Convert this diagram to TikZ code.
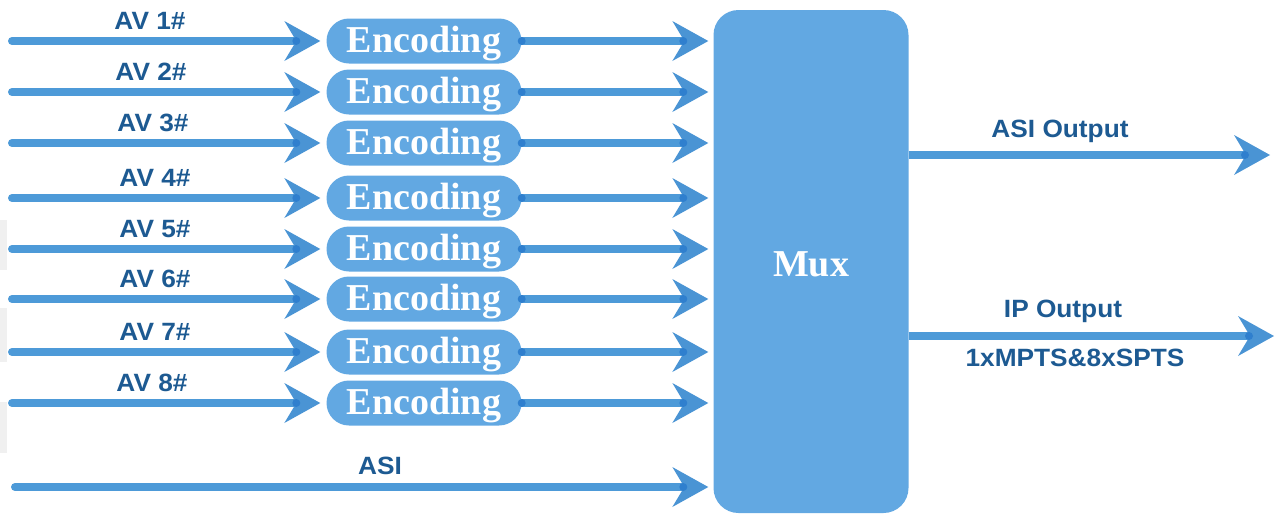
\documentclass[tikz,border=0pt]{standalone}
\usepackage{fontspec}
\usetikzlibrary{arrows.meta,shapes.misc}
\newfontfamily\labfont{Liberation Sans}[FakeStretch=1.05]
\newfontfamily\serfont{Liberation Serif}
\definecolor{lineblue}{HTML}{4D9AD8}
\definecolor{headblue}{HTML}{4A94D4}
\definecolor{boxblue}{HTML}{62A8E2}
\definecolor{dotblue}{HTML}{2F7FCE}
\definecolor{labblue}{HTML}{1D5A92}
\begin{document}
\begin{tikzpicture}[x=1pt,y=-1pt,
  flow/.style={draw=lineblue,line width=8pt,line cap=round,
    -{Stealth[length=36pt,width=40pt,inset=12pt,line width=0pt,fill=headblue]}},
  enc/.style={rounded rectangle,fill=boxblue,minimum width=195pt,minimum height=45pt,
    inner sep=0pt,text=white,text depth=3pt,font=\serfont\bfseries\fontsize{38}{40}\selectfont},
  muxbox/.style={rectangle,rounded corners=25pt,fill=boxblue,minimum width=195pt,
    minimum height=503pt,inner sep=0pt,text=white,font=\serfont\bfseries\fontsize{38}{40}\selectfont},
  lab/.style={text=labblue,inner sep=0pt,font=\labfont\bfseries\fontsize{25}{27}\selectfont}]
\useasboundingbox (0,0) rectangle (1278,515);
% light grey edge patches
\fill[gray!12] (0,220) rectangle (7,270);
\fill[gray!12] (0,308) rectangle (7,362);
\fill[gray!12] (0,402) rectangle (7,453);
% mux
\node[muxbox] (mux) at (811,261.5) {};
\node[text=white,inner sep=0pt,font=\serfont\bfseries\fontsize{38}{40}\selectfont] (muxlabel) at (811,264) {Mux};
% encoding rows
\foreach \i/\y/\lx in {1/41/150,2/92/151,3/143/153,4/198/155,5/249/155,6/299/155,7/352/155,8/403/152}{
  \node[enc] (e\i) at (424,\y) {Encoding};
  \coordinate (s\i) at (12,\y);
  \node[lab] (l\i) at (\lx,\y-20) {AV \i\#};
  \draw[flow,shorten >=6pt] (s\i) -- (e\i.west);
  \draw[flow,line cap=butt,shorten >=5pt] (e\i.east) -- (mux.west |- e\i);
  \fill[dotblue] ([xshift=-30pt]e\i.west) circle (4pt);
  \fill[dotblue] ([xshift=-30pt]mux.west |- e\i) circle (4pt);
  \fill[dotblue] (e\i.east) circle (4pt);
}
% ASI input
\coordinate (sa) at (15,487);
\node[lab] (lasi) at (380,466) {ASI};
\draw[flow,shorten >=5pt] (sa) -- (mux.west |- sa);
\fill[dotblue] ([xshift=-30pt]mux.west |- sa) circle (4pt);
% outputs
\coordinate (oa) at (1270,155);
\coordinate (oi) at (1274,336);
\draw[flow,line cap=butt] (mux.east |- oa) -- (oa);
\draw[flow,line cap=butt] (mux.east |- oi) -- (oi);
\fill[dotblue] ([xshift=-25pt]oa) circle (4pt);
\fill[dotblue] ([xshift=-25pt]oi) circle (4pt);
\node[lab] (lao) at (1060,131) {ASI Output};
\node[lab] (lip) at (1063,311) {IP Output};
\node[lab] (lmp) at (1075,358) {1xMPTS\&8xSPTS};
\end{tikzpicture}
\end{document}
